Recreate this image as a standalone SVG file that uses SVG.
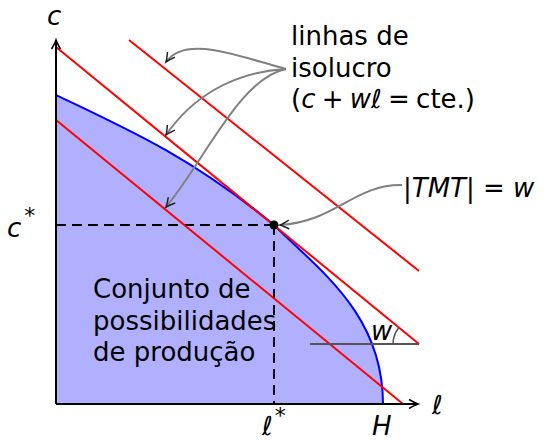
<svg xmlns="http://www.w3.org/2000/svg" width="546" height="440" viewBox="0 0 546 440">
<style>
text{font-family:"DejaVu Sans",sans-serif;font-size:26px;fill:#000}
.i{font-style:italic}
.red{stroke:#ff0000;stroke-width:2;fill:none}
.conn{stroke:#808080;stroke-width:2;fill:none;marker-end:url(#ga)}
.dash{stroke:#000;stroke-width:2;stroke-dasharray:10 6;fill:none}
</style>
<defs>
<marker id="ax" markerUnits="userSpaceOnUse" markerWidth="14" markerHeight="14" viewBox="-10 -7 12 14" refX="0" refY="0" orient="auto">
<path d="M-9,-4.5 Q-3,-1 0,0 Q-3,1 -9,4.5" stroke="#000" stroke-width="1.6" fill="none"/>
</marker>
<marker id="ga" markerUnits="userSpaceOnUse" markerWidth="14" markerHeight="14" viewBox="-10 -7 12 14" refX="0" refY="0" orient="auto">
<path d="M-9,-4.5 Q-3,-1 0,0 Q-3,1 -9,4.5" stroke="#222" stroke-width="1.5" fill="none"/>
</marker>
</defs>
<g id="region">
<path d="M56,404 L56,95 C136,132.6 194,159.6 274,225 C319,270 383,314 383,404 Z" fill="#b0b0ff"/>
</g>
<g id="dashes">
<path class="dash" d="M56,225 H274 M274,225 V404"/>
</g>
<g id="frontier">
<path d="M56,95 C136,132.6 194,159.6 274,225 C319,270 383,314 383,404" stroke="#0000ff" stroke-width="2" fill="none"/>
</g>
<g id="isolines">
<line class="red" x1="129" y1="40" x2="419" y2="271"/>
<line class="red" x1="56" y1="47" x2="419" y2="344"/>
<line class="red" x1="56" y1="120" x2="403" y2="404"/>
</g>
<g id="angle">
<path d="M310,344 H419" stroke="#555" stroke-width="2" fill="none"/>
<path d="M393,344 A26,26 0 0 1 399,327.5" stroke="#555" stroke-width="1.6" fill="none"/>
<text class="i" x="371" y="340">w</text>
</g>
<g id="axes">
<path d="M56,404 V40" stroke="#000" stroke-width="2" fill="none" marker-end="url(#ax)"/>
<path d="M56,404 H418" stroke="#000" stroke-width="2" fill="none" marker-end="url(#ax)"/>
</g>
<g id="optimum">
<circle cx="274" cy="225" r="4.5" fill="#000"/>
</g>
<g id="connectors">
<path class="conn" d="M286,69 C235,55 185,35 166,62"/>
<path class="conn" d="M286,69 C230,72 190,100 166,135"/>
<path class="conn" d="M286,69 C240,78 205,160 166,207"/>
<path class="conn" d="M402,185 C355,184 335,222 280,225"/>
</g>
<g id="labels">
<text class="i" x="47" y="25" font-size="29">c</text>
<text x="7" y="237" font-size="29"><tspan class="i">c</tspan><tspan font-size="22" dx="3" dy="-14">*</tspan></text>
<text x="262" y="435" font-size="27"><tspan class="i">ℓ</tspan><tspan font-size="22" dx="2" dy="-12">*</tspan></text>
<text class="i" x="372" y="435" font-size="27">H</text>
<text class="i" x="432" y="414">ℓ</text>
</g>
<g id="label-isolucro">
<text x="291" y="45">linhas de</text>
<text x="291" y="77">isolucro</text>
<text x="291" y="108" word-spacing="-2">(<tspan class="i">c</tspan> + <tspan class="i">wℓ</tspan> = cte.)</text>
</g>
<g id="label-tmt">
<text x="403" y="197" font-size="27">|<tspan class="i">TMT</tspan>| = <tspan class="i">w</tspan></text>
</g>
<g id="label-set">
<text x="93" y="298">Conjunto de</text>
<text x="93" y="330">possibilidades</text>
<text x="93" y="361">de produção</text>
</g>
</svg>
